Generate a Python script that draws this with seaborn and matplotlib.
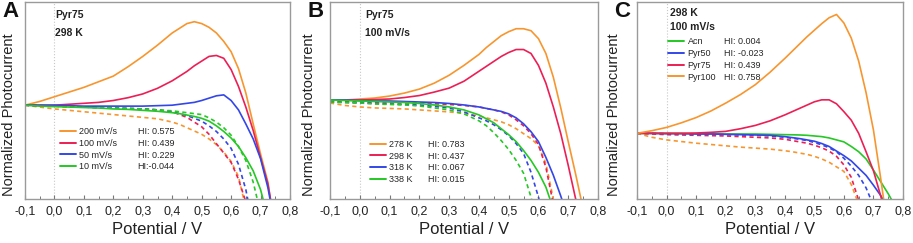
import numpy as np
import pandas as pd
import matplotlib
matplotlib.use("Agg")
import matplotlib.pyplot as plt
import seaborn as sns
from matplotlib.lines import Line2D
from matplotlib.ticker import MultipleLocator, FuncFormatter

nan = np.nan

# common potential grid (V)
potential = [-0.1, -0.05, 0.0, 0.05, 0.1, 0.15, 0.2, 0.25, 0.3, 0.35,
             0.4, 0.425, 0.45, 0.475, 0.5, 0.525, 0.55,
             0.575, 0.6, 0.625, 0.65, 0.675, 0.7, 0.725, 0.75, 0.775]

# panel A: Pyr75, 298 K, scan rates
a_names = ["200 mV/s", "100 mV/s", "50 mV/s", "10 mV/s"]
a_hi = ["HI: 0.575", "HI: 0.439", "HI: 0.229", "HI:-0.044"]
a_200 = [1.0, 1.04, 1.09, 1.14, 1.19, 1.25, 1.31, 1.41, 1.52, 1.64, 1.77, 1.82, 1.87, 1.89, 1.87, 1.83, 1.77, 1.68, 1.57, 1.39, 1.13, 0.80, 0.48, 0.18, -0.35, nan]
a_100 = [1.0, 1.0, 1.0, 1.01, 1.02, 1.03, 1.05, 1.08, 1.12, 1.18, 1.26, 1.31, 1.36, 1.42, 1.47, 1.52, 1.53, 1.50, 1.38, 1.20, 0.98, 0.73, 0.44, 0.16, -0.3, nan]
a_50 = [1.0, 1.0, 1.0, 0.995, 0.99, 0.99, 0.99, 0.99, 0.99, 0.995, 1.0, 1.01, 1.02, 1.03, 1.05, 1.075, 1.10, 1.11, 1.05, 0.95, 0.80, 0.64, 0.43, 0.12, -0.3, nan]
a_10 = [1.0, 0.99, 0.985, 0.98, 0.975, 0.97, 0.96, 0.955, 0.945, 0.935, 0.92, 0.91, 0.895, 0.88, 0.86, 0.83, 0.78, 0.72, 0.65, 0.56, 0.44, 0.30, 0.10, -0.2, nan, nan]
a_200d = [1.0, 0.98, 0.96, 0.945, 0.93, 0.915, 0.90, 0.885, 0.87, 0.855, 0.82, 0.795, 0.76, 0.725, 0.69, 0.64, 0.58, 0.50, 0.40, 0.24, -0.1, nan, nan, nan, nan, nan]
a_100d = [1.0, 0.995, 0.99, 0.985, 0.98, 0.975, 0.97, 0.965, 0.96, 0.95, 0.93, 0.90, 0.87, 0.82, 0.77, 0.69, 0.59, 0.49, 0.39, 0.21, -0.03, nan, nan, nan, nan, nan]
a_50d = [1.0, 0.995, 0.99, 0.985, 0.98, 0.975, 0.97, 0.965, 0.96, 0.95, 0.93, 0.91, 0.89, 0.86, 0.83, 0.78, 0.72, 0.64, 0.54, 0.37, 0.10, -0.3, nan, nan, nan, nan]
a_10d = [1.0, 0.995, 0.99, 0.985, 0.98, 0.975, 0.97, 0.965, 0.96, 0.95, 0.94, 0.93, 0.92, 0.91, 0.90, 0.865, 0.82, 0.76, 0.68, 0.56, 0.41, 0.18, -0.15, nan, nan, nan]

# panel B: Pyr75, 100 mV/s, temperatures
b_names = ["278 K", "298 K", "318 K", "338 K"]
b_hi = ["HI: 0.783", "HI: 0.437", "HI: 0.067", "HI: 0.015"]
b_278 = [1.0, 1.0, 1.01, 1.02, 1.04, 1.07, 1.11, 1.17, 1.25, 1.35, 1.46, 1.53, 1.59, 1.65, 1.69, 1.72, 1.72, 1.70, 1.62, 1.47, 1.23, 0.92, 0.58, 0.25, -0.1, nan]
b_298 = [1.0, 1.0, 1.0, 1.005, 1.01, 1.025, 1.045, 1.08, 1.12, 1.19, 1.29, 1.34, 1.39, 1.44, 1.48, 1.51, 1.51, 1.47, 1.35, 1.17, 0.93, 0.66, 0.34, 0.0, -0.35, nan]
b_318 = [1.0, 1.0, 0.995, 0.99, 0.99, 0.985, 0.98, 0.975, 0.965, 0.95, 0.93, 0.915, 0.90, 0.885, 0.86, 0.82, 0.76, 0.68, 0.58, 0.42, 0.24, 0.03, -0.2, nan, nan, nan]
b_338 = [1.0, 0.995, 0.99, 0.985, 0.98, 0.975, 0.965, 0.95, 0.93, 0.90, 0.85, 0.81, 0.77, 0.71, 0.65, 0.58, 0.49, 0.39, 0.27, 0.12, -0.1, nan, nan, nan, nan, nan]
b_278d = [0.97, 0.945, 0.93, 0.92, 0.915, 0.91, 0.90, 0.89, 0.88, 0.865, 0.84, 0.82, 0.80, 0.78, 0.75, 0.71, 0.66, 0.61, 0.54, 0.36, 0.0, nan, nan, nan, nan, nan]
b_298d = [0.99, 0.985, 0.98, 0.978, 0.975, 0.972, 0.97, 0.962, 0.955, 0.945, 0.93, 0.915, 0.90, 0.88, 0.85, 0.80, 0.74, 0.66, 0.55, 0.32, -0.05, nan, nan, nan, nan, nan]
b_318d = [0.98, 0.975, 0.97, 0.965, 0.96, 0.955, 0.95, 0.935, 0.92, 0.88, 0.82, 0.79, 0.75, 0.70, 0.64, 0.56, 0.46, 0.27, 0.02, -0.3, nan, nan, nan, nan, nan, nan]
b_338d = [0.98, 0.975, 0.97, 0.96, 0.955, 0.95, 0.94, 0.92, 0.90, 0.86, 0.79, 0.74, 0.67, 0.59, 0.50, 0.39, 0.26, 0.02, -0.3, nan, nan, nan, nan, nan, nan, nan]

# panel C: 298 K, 100 mV/s, electrolytes
c_names = ["Acn", "Pyr50", "Pyr75", "Pyr100"]
c_hi = ["HI: 0.004", "HI: -0.023", "HI: 0.439", "HI: 0.758"]
c_acn = [1.0, 1.0, 1.0, 1.0, 0.995, 0.995, 0.99, 0.99, 0.99, 0.985, 0.98, 0.978, 0.975, 0.97, 0.96, 0.95, 0.93, 0.90, 0.87, 0.80, 0.72, 0.61, 0.44, 0.26, 0.08, -0.12]
c_pyr50 = [1.0, 1.0, 0.995, 0.995, 0.99, 0.99, 0.985, 0.98, 0.975, 0.97, 0.95, 0.935, 0.92, 0.90, 0.88, 0.845, 0.80, 0.73, 0.66, 0.58, 0.47, 0.36, 0.21, 0.05, -0.15, nan]
c_pyr75 = [1.0, 1.0, 1.0, 1.0, 1.005, 1.015, 1.03, 1.07, 1.12, 1.19, 1.28, 1.33, 1.38, 1.43, 1.48, 1.51, 1.51, 1.45, 1.33, 1.20, 1.0, 0.72, 0.43, 0.04, -0.4, nan]
c_pyr100 = [1.0, 1.04, 1.09, 1.16, 1.24, 1.34, 1.46, 1.59, 1.74, 1.93, 2.14, 2.25, 2.36, 2.47, 2.57, 2.67, 2.76, 2.81, 2.68, 2.45, 2.10, 1.62, 1.05, 0.30, -0.5, nan]
c_pyr50d = [1.0, 1.0, 0.995, 0.99, 0.99, 0.985, 0.98, 0.975, 0.97, 0.96, 0.94, 0.925, 0.91, 0.89, 0.86, 0.825, 0.78, 0.72, 0.62, 0.50, 0.36, 0.17, -0.1, nan, nan, nan]
c_pyr75d = [1.0, 0.99, 0.98, 0.975, 0.97, 0.965, 0.96, 0.95, 0.94, 0.93, 0.91, 0.89, 0.87, 0.85, 0.82, 0.78, 0.73, 0.65, 0.52, 0.33, -0.02, nan, nan, nan, nan, nan]
c_pyr100d = [1.0, 0.94, 0.90, 0.875, 0.85, 0.83, 0.81, 0.79, 0.775, 0.76, 0.735, 0.72, 0.70, 0.68, 0.65, 0.61, 0.56, 0.49, 0.42, 0.22, -0.08, nan, nan, nan, nan, nan]

orange, red, blue, green = "#f7962f", "#ec1f55", "#3347e8", "#25c825"


def long_df(curves):
    rows = []
    for name, vals in curves:
        for x, y in zip(potential, vals):
            if not np.isnan(y):
                rows.append((name, x, y))
    return pd.DataFrame(rows, columns=["serie", "potential", "current"])


panels = [
    dict(letter="A", names=a_names, hi=a_hi, colors=[orange, red, blue, green],
         solid=[a_200, a_100, a_50, a_10], dashed=[a_200d, a_100d, a_50d, a_10d],
         notes=["Pyr75", "298 K"], note_x=0.113, note_y=[0.934, 0.843],
         ylim=2.10, leg=(0.132, 0.365), hix=0.425, ylab_x=-0.034),
    dict(letter="B", names=b_names, hi=b_hi, colors=[orange, red, blue, green],
         solid=[b_278, b_298, b_318, b_338], dashed=[b_278d, b_298d, b_318d, b_338d],
         notes=["Pyr75", "100 mV/s"], note_x=0.13, note_y=[0.934, 0.843],
         ylim=1.99, leg=(0.149, 0.30), hix=0.366, ylab_x=-0.052),
    dict(letter="C", names=c_names, hi=c_hi, colors=[green, blue, red, orange],
         solid=[c_acn, c_pyr50, c_pyr75, c_pyr100], dashed=[None, c_pyr50d, c_pyr75d, c_pyr100d],
         notes=["298 K", "100 mV/s"], note_x=0.124, note_y=[0.944, 0.873],
         ylim=3.0, leg=(0.117, 0.82), hix=0.327, ylab_x=-0.060),
]

sns.set_theme(style="white")
plt.rcParams["font.family"] = ["Liberation Sans", "DejaVu Sans"]

fig = plt.figure(figsize=(9.13, 2.43), dpi=100)
lefts = [25 / 913, 330 / 913, 637 / 913]
widths = [265 / 913, 268 / 913, 266 / 913]

for p, left, width in zip(panels, lefts, widths):
    ax = fig.add_axes([left, 44 / 243, width, 197 / 243])
    pal = dict(zip(p["names"], p["colors"]))

    ax.axvline(0, color="#c8c8c8", lw=0.8, ls=":", zorder=0)

    dashed = [(n, v) for n, v in zip(p["names"], p["dashed"]) if v is not None]
    solid = list(zip(p["names"], p["solid"]))

    sns.lineplot(data=long_df(dashed), x="potential", y="current", hue="serie",
                 palette=pal, sort=False, estimator=None, legend=False, ax=ax,
                 lw=1.2, linestyle=(0, (2.5, 2)))
    sns.lineplot(data=long_df(solid), x="potential", y="current", hue="serie",
                 palette=pal, sort=False, estimator=None, legend=False, ax=ax, lw=1.2)

    ax.set_xlim(-0.1, 0.8)
    ax.set_ylim(0, p["ylim"])
    ax.xaxis.set_major_locator(MultipleLocator(0.1))
    ax.xaxis.set_minor_locator(MultipleLocator(0.05))
    ax.xaxis.set_major_formatter(FuncFormatter(lambda v, pos: f"{v:.1f}".replace(".", ",")))
    ax.set_yticks([])
    ax.tick_params(axis="x", which="major", direction="in", length=3, width=0.8,
                   color="#777777", labelsize=9, pad=5, labelcolor="#222222", bottom=True)
    ax.tick_params(axis="x", which="minor", direction="in", length=2, width=0.7,
                   color="#777777", bottom=True)
    for s in ax.spines.values():
        s.set_color("#9a9a9a")
        s.set_linewidth(1.0)
    ax.set_xlabel("Potential / V", fontsize=12, labelpad=3, color="#222222")
    ax.set_ylabel("Normalized Photocurrent", fontsize=10.5, color="#222222")
    ax.yaxis.set_label_coords(p["ylab_x"], 0.43)

    for txt, ty in zip(p["notes"], p["note_y"]):
        ax.text(p["note_x"], ty, txt, transform=ax.transAxes, fontsize=7.5,
                fontweight="bold", va="center", ha="left", color="#222222")

    handles = [Line2D([], [], color=c, lw=1.4) for c in p["colors"]]
    leg1 = ax.legend(handles, p["names"], loc="upper left", bbox_to_anchor=p["leg"],
                     frameon=False, fontsize=6.5, handlelength=1.8, handletextpad=0.35,
                     labelspacing=0.3, borderpad=0, borderaxespad=0)
    ax.add_artist(leg1)
    blanks = [Line2D([], [], color="none") for _ in p["hi"]]
    ax.legend(blanks, p["hi"], loc="upper left", bbox_to_anchor=(p["hix"], p["leg"][1]),
              frameon=False, fontsize=6.5, handlelength=0, handletextpad=0,
              labelspacing=0.3, borderpad=0, borderaxespad=0)

    fig.text(left - 23 / 913, 0.995, p["letter"], fontsize=16, fontweight="bold",
             va="top", ha="left", color="#111111")

fig.savefig("out.png", dpi=100)
